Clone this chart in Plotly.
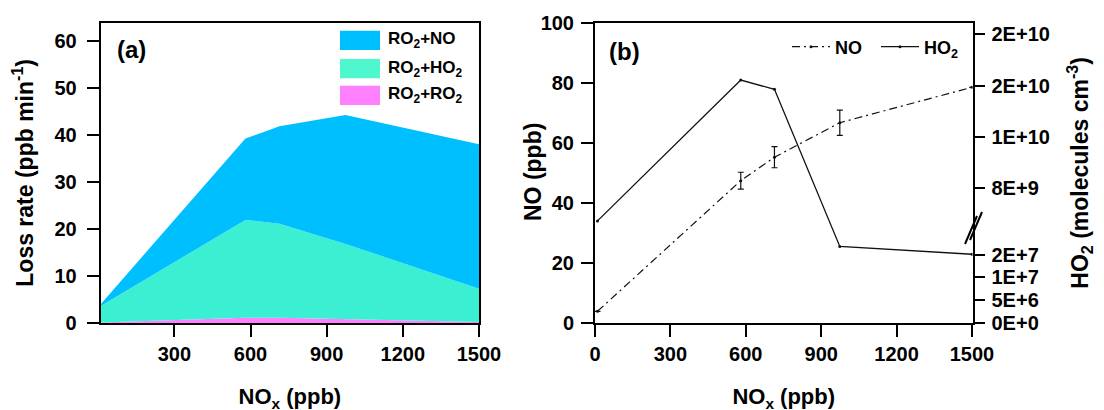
import plotly.graph_objects as go

W, H = 1104, 410
OFF = 8  # the page body margin shifts the figure by 8 px

# ---------------- data ----------------
nox = [10, 580, 714, 974, 1500]                 # NOx (ppb)
ro2_ro2 = [0.1, 1.1, 1.1, 0.8, 0.2]             # loss rate, ppb/min
ro2_ho2 = [3.5, 20.8, 20.0, 16.0, 7.1]
ro2_no = [0.4, 17.3, 20.7, 27.4, 30.7]

no_ppb = [3.9, 47.4, 55.2, 66.7, 78.5]          # NO (ppb)
no_err = [0.0, 2.8, 3.5, 4.2, 0.0]
ho2_axis = [34.0, 80.9, 77.8, 25.5, 22.9]       # HO2 on broken right-axis scale

ho2_tickpos = [0, 7.6, 15.2, 22.7, 45.1, 61.9, 78.9, 96.1]
ho2_ticktext = ["0E+0", "5E+6", "1E+7", "2E+7", "8E+9", "1E+10", "2E+10", "2E+10"]

col_no = "#00BFFF"
col_ho2 = "#3BEFD2"
col_ro2 = "#FF80FF"

FONT = "Liberation Sans, Arial, sans-serif"


def px(x):
    return (x - OFF) / W


def py(y):
    return 1 - (y - OFF) / H


fig = go.Figure()

# -------- panel (a): stacked areas --------
for name, vals, col in [("RO<sub>2</sub>+RO<sub>2</sub>", ro2_ro2, col_ro2),
                        ("RO<sub>2</sub>+HO<sub>2</sub>", ro2_ho2, col_ho2),
                        ("RO<sub>2</sub>+NO", ro2_no, col_no)]:
    fig.add_trace(go.Scatter(x=nox, y=vals, name=name, stackgroup="a",
                             mode="lines", line=dict(width=0, color=col),
                             fillcolor=col, showlegend=False,
                             xaxis="x", yaxis="y"))

# -------- panel (b) --------
fig.add_trace(go.Scatter(x=nox, y=no_ppb, name="NO", mode="lines+markers",
                         line=dict(color="#111111", width=1.2, dash="8px,4px,2px,4px"),
                         marker=dict(size=3, color="#111111"),
                         error_y=dict(type="data", array=no_err, visible=True,
                                      color="#111111", thickness=1.2, width=3),
                         xaxis="x2", yaxis="y2", showlegend=True))
fig.add_trace(go.Scatter(x=nox, y=ho2_axis, name="HO<sub>2</sub>", mode="lines+markers",
                         line=dict(color="#111111", width=1.3),
                         marker=dict(size=3, color="#111111"),
                         xaxis="x2", yaxis="y3", showlegend=True))

tickfont = dict(family=FONT, size=20, color="black", weight="bold")
xtitlefont = dict(family=FONT, size=22, color="black", weight="bold")
ytitlefont = dict(family=FONT, size=23, color="black", weight="bold")
ydom = [py(323.0), py(22.7)]

axis_common = dict(showline=True, linewidth=2, linecolor="black", ticks="outside",
                   tickwidth=2, tickcolor="black", ticklen=12, showgrid=False,
                   zeroline=False, tickfont=tickfont, automargin=False)

fig.update_layout(
    width=W, height=H,
    margin=dict(l=0, r=0, t=0, b=0, autoexpand=False),
    paper_bgcolor="white", plot_bgcolor="white",
    font=dict(family=FONT, color="black"),
    xaxis=dict(domain=[px(100.7), px(479)], range=[10, 1500],
               tickvals=[300, 600, 900, 1200, 1500], mirror=True,
               title=dict(text="NO<sub>x</sub> (ppb)", font=xtitlefont, standoff=25),
               anchor="y", **axis_common),
    yaxis=dict(domain=ydom, range=[0, 63.8], tickvals=[0, 10, 20, 30, 40, 50, 60],
               mirror=True, anchor="x", ticklabelstandoff=6,
               title=dict(text="Loss rate (ppb min<sup>-1</sup>)", font=ytitlefont, standoff=22),
               **axis_common),
    xaxis2=dict(domain=[px(595), px(972.5)], range=[0, 1502],
                tickvals=[0, 300, 600, 900, 1200, 1500], mirror=True, anchor="y2",
                title=dict(text="NO<sub>x</sub> (ppb)", font=xtitlefont, standoff=25),
                **axis_common),
    yaxis2=dict(domain=ydom, range=[0, 100], tickvals=[0, 20, 40, 60, 80, 100],
                anchor="x2", ticklabelstandoff=3, **axis_common),
    yaxis3=dict(domain=ydom, range=[0, 100], overlaying="y2", side="right",
                anchor="x2", tickvals=ho2_tickpos, ticktext=ho2_ticktext,
                showline=True, linewidth=2, linecolor="black", ticks="outside",
                tickwidth=2, tickcolor="black", ticklen=10, showgrid=False,
                zeroline=False, tickfont=tickfont, automargin=False,
                ticklabelstandoff=3,
                title=dict(text="HO<sub>2</sub> (molecules cm<sup>-3</sup>)",
                           font=ytitlefont, standoff=23)),
    legend=dict(orientation="h", x=px(787), xanchor="left", y=py(47), yanchor="middle",
                traceorder="normal", itemwidth=38, entrywidth=36, entrywidthmode="pixels",
                font=dict(family=FONT, size=18, color="black", weight="bold"),
                bgcolor="rgba(0,0,0,0)", borderwidth=0),
)

# left title of panel (b), placed as in the reference (close to the tick labels)
fig.add_annotation(xref="paper", yref="paper", x=px(533), y=py(172), showarrow=False,
                   textangle=-90, xanchor="center", yanchor="middle",
                   text="NO (ppb)", font=ytitlefont)

# custom legend for panel (a)
leg = [("RO<sub>2</sub>+NO", col_no, 30.7, 50.0),
       ("RO<sub>2</sub>+HO<sub>2</sub>", "#4FF7CF", 59.0, 78.3),
       ("RO<sub>2</sub>+RO<sub>2</sub>", col_ro2, 85.7, 105.0)]
for text, col, y0, y1 in leg:
    fig.add_shape(type="rect", xref="paper", yref="paper", x0=px(340), x1=px(380),
                  y0=py(y1), y1=py(y0), fillcolor=col, line=dict(width=0))
    fig.add_annotation(xref="paper", yref="paper", x=px(386), y=py((y0 + y1) / 2),
                       xanchor="left", yanchor="middle", showarrow=False, text=text,
                       font=dict(family=FONT, size=17, color="black", weight="bold"))

# panel labels
fig.add_annotation(xref="paper", yref="paper", x=px(131), y=py(50), showarrow=False,
                   xanchor="center", yanchor="middle",
                   text="(a)", font=dict(family=FONT, size=24, color="black", weight="bold"))
fig.add_annotation(xref="paper", yref="paper", x=px(624), y=py(51.5), showarrow=False,
                   xanchor="center", yanchor="middle",
                   text="(b)", font=dict(family=FONT, size=24, color="black", weight="bold"))

# axis-break marks on right axis of panel (b)
for dx in (0, 5):
    fig.add_shape(type="line", xref="paper", yref="paper",
                  x0=px(965 + dx), y0=py(244 - dx * 0.8), x1=px(977 + dx), y1=py(216 - dx * 0.8),
                  line=dict(color="black", width=2))

fig.write_html("out.html")
